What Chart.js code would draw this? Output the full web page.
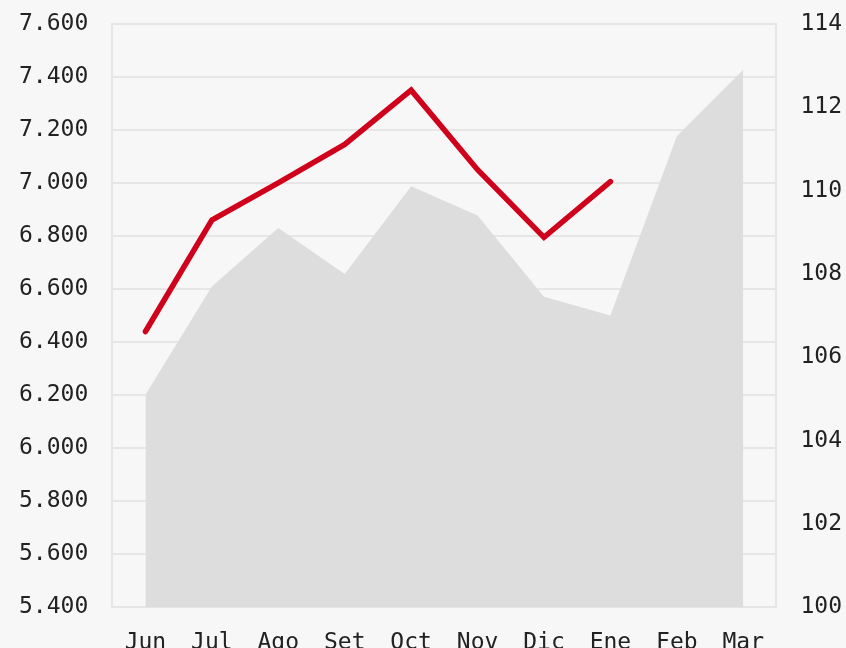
<!DOCTYPE html>
<html>
<head>
<meta charset="utf-8">
<script src="https://cdn.jsdelivr.net/npm/chart.js@4"></script>
<style>
    html, body { margin: 0; padding: 0; background: #f7f7f7; overflow: hidden; }
    #contenedor { width: 846px; height: 693px; position: relative; margin-top: -14px; }
</style>
</head>
<body>
<div id="contenedor"><canvas id="grafico"></canvas></div>
<script>
// Datos
const meses = ["Jun", "Jul", "Ago", "Set", "Oct", "Nov", "Dic", "Ene", "Feb", "Mar"];
const valoresLinea = [6440, 6860, 7000, 7145, 7350, 7050, 6795, 7005, null, null];
const valoresArea = [105.1, 107.7, 109.1, 108.0, 110.1, 109.4, 107.45, 107.0, 111.3, 112.9];

const colorGrilla = "#e6e6e6";
const fuente = { family: "'DejaVu Sans Mono', monospace", size: 23 };

// separador de miles con punto
function formatoMiles(v) {
    return String(v).replace(/\B(?=(\d{3})+(?!\d))/g, ".");
}

const ctx = document.getElementById("grafico");

new Chart(ctx, {
    type: "line",
    data: {
        labels: meses,
        datasets: [
            {
                label: "Linea",
                data: valoresLinea,
                yAxisID: "y",
                borderColor: "#d0021b",
                borderWidth: 5.5,
                borderCapStyle: "round",
                borderJoinStyle: "miter",
                pointRadius: 0,
                fill: false,
                tension: 0,
                order: 1
            },
            {
                label: "Area",
                data: valoresArea,
                yAxisID: "y1",
                borderWidth: 0,
                borderColor: "rgba(0,0,0,0)",
                backgroundColor: "#dddddd",
                pointRadius: 0,
                fill: "start",
                tension: 0,
                order: 2
            }
        ]
    },
    options: {
        responsive: true,
        maintainAspectRatio: false,
        animation: false,
        layout: { padding: { top: 0, left: -5, right: -20, bottom: 0 } },
        plugins: {
            legend: { display: false },
            tooltip: { enabled: false }
        },
        scales: {
            x: {
                offset: true,
                grid: { display: false, drawTicks: false },
                border: { color: colorGrilla, width: 2 },
                ticks: { color: "#222", font: fuente, padding: 22, maxRotation: 0 }
            },
            y: {
                position: "left",
                min: 5400,
                max: 7600,
                grid: { color: colorGrilla, lineWidth: 2, drawTicks: false },
                border: { color: colorGrilla, width: 2 },
                ticks: {
                    stepSize: 200,
                    color: "#222",
                    font: fuente,
                    padding: 24,
                    callback: v => formatoMiles(v)
                }
            },
            y1: {
                position: "right",
                min: 100,
                max: 114,
                grid: { display: false, drawTicks: false },
                border: { color: colorGrilla, width: 2 },
                ticks: { stepSize: 2, color: "#222", font: fuente, padding: 24 }
            }
        }
    }
});
</script>
</body>
</html>
